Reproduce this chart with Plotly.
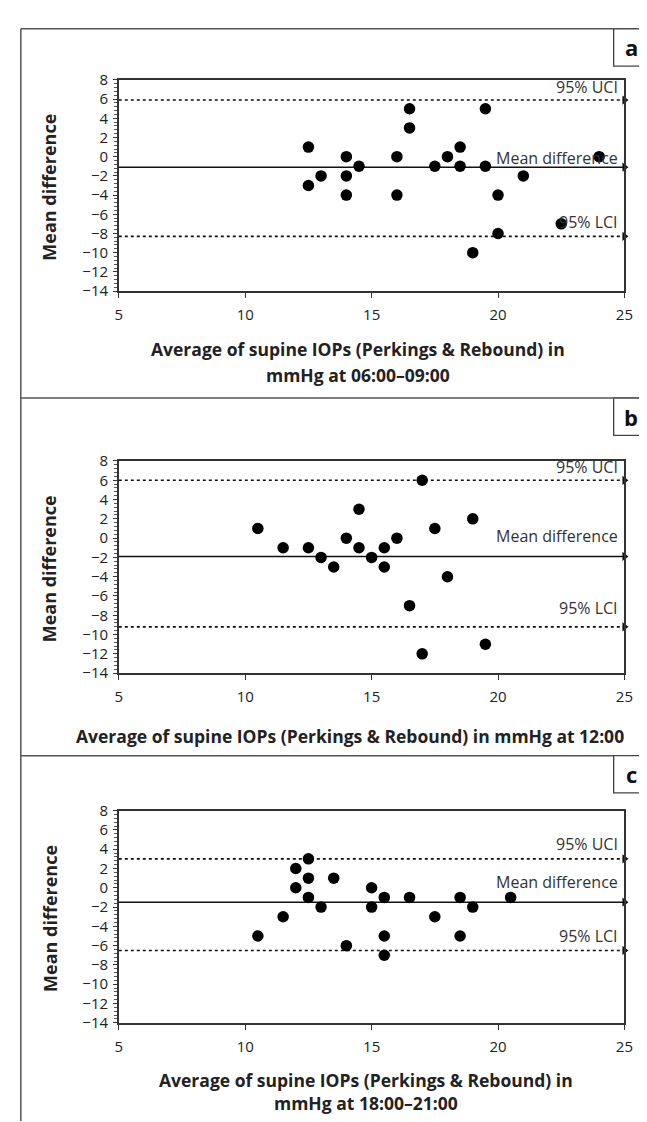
import plotly.graph_objects as go

# ---- data ----
panel_letters = ["a", "b", "c"]

a_avg = [12.5, 12.5, 13, 14, 14, 14, 14.5, 16, 16, 16.5, 16.5, 17.5, 18, 18.5, 18.5, 19, 19.5, 19.5, 20, 20, 21, 22.5, 24]
a_diff = [1, -3, -2, 0, -2, -4, -1, 0, -4, 5, 3, -1, 0, 1, -1, -10, 5, -1, -4, -8, -2, -7, 0]
a_stats = {"mean": -1.1, "uci": 5.9, "lci": -8.3}

b_avg = [10.5, 11.5, 12.5, 13, 13.5, 14, 14.5, 14.5, 15, 15.5, 15.5, 16, 16.5, 17, 17, 17.5, 18, 19, 19.5]
b_diff = [1, -1, -1, -2, -3, 0, 3, -1, -2, -1, -3, 0, -7, 6, -12, 1, -4, 2, -11]
b_stats = {"mean": -1.9, "uci": 6.0, "lci": -9.2}

c_avg = [10.5, 11.5, 12, 12, 12.5, 12.5, 12.5, 13, 13.5, 14, 15, 15, 15.5, 15.5, 15.5, 16.5, 17.5, 18.5, 18.5, 19, 20.5]
c_diff = [-5, -3, 2, 0, 3, 1, -1, -2, 1, -6, 0, -2, -1, -5, -7, -1, -3, -1, -5, -2, -1]
c_stats = {"mean": -1.5, "uci": 3.0, "lci": -6.5}

x_titles = [
    ["Average of supine IOPs (Perkings & Rebound) in", "mmHg at 06:00–09:00"],
    ["Average of supine IOPs (Perkings & Rebound) in mmHg at 12:00"],
    ["Average of supine IOPs (Perkings & Rebound) in", "mmHg at 18:00–21:00"],
]
y_title = "Mean difference"
line_labels = {"uci": "95% UCI", "mean": "Mean difference", "lci": "95% LCI"}

x_range = [5, 25]
y_range = [-14, 8]

# ---- layout geometry (pixels) ----
W, H = 647, 1122
def py(p):
    return 1 - p / H
def px(p):
    return p / W

plot_left, plot_right = 109, 625
panel_geo = [
    dict(top=62, bottom=277, ptop=10, title_ys=[336, 362], title_x=353, shifts=(0, -4, 1)),
    dict(top=450, bottom=666, ptop=386, title_ys=[730], title_x=345, shifts=(0, 7, 6)),
    dict(top=806, bottom=1022, ptop=750, title_ys=[1080, 1104], title_x=361, shifts=(2, 7, 1)),
]

FONT = "Open Sans"
datasets = [(a_avg, a_diff, a_stats), (b_avg, b_diff, b_stats), (c_avg, c_diff, c_stats)]

fig = go.Figure()
annotations = []
shapes = []

for i, ((xs, ys, st), geo) in enumerate(zip(datasets, panel_geo)):
    n = "" if i == 0 else str(i + 1)
    xa, ya = "x" + n, "y" + n
    # limit lines
    for key, dash in (("uci", "dot"), ("mean", "solid"), ("lci", "dot")):
        fig.add_trace(go.Scatter(
            x=x_range, y=[st[key], st[key]], xaxis=xa, yaxis=ya, mode="lines",
            line=dict(color="#111", width=1.6, dash=dash), hoverinfo="skip", showlegend=False,
            cliponaxis=False))
        fig.add_trace(go.Scatter(
            x=[x_range[1]], y=[st[key]], xaxis=xa, yaxis=ya, mode="markers",
            marker=dict(symbol="triangle-right", size=8, color="#111"),
            hoverinfo="skip", showlegend=False, cliponaxis=False))
    # points
    fig.add_trace(go.Scatter(
        x=xs, y=ys, xaxis=xa, yaxis=ya, mode="markers",
        marker=dict(size=11.5, color="black"), showlegend=False, cliponaxis=False))

    for key, sh in zip(("uci", "mean", "lci"), geo["shifts"]):
        annotations.append(dict(
            x=x_range[1], y=st[key], xref=xa, yref=ya, text=line_labels[key],
            showarrow=False, xanchor="right", yanchor="bottom", xshift=-4, yshift=sh,
            font=dict(family=FONT, size=16, color="#333")))

    dom = [py(geo["bottom"]), py(geo["top"])]
    axis_common = dict(showline=True, linecolor="#333", linewidth=1.5, mirror=True,
                       showgrid=False, zeroline=False,
                       tickfont=dict(family=FONT, size=15, color="#222"))
    fig.layout["xaxis" + n] = dict(
        domain=[px(plot_left), px(plot_right)], range=x_range, anchor=ya,
        tickmode="linear", tick0=5, dtick=5, ticks="outside", ticklen=5,
        tickcolor="#333", ticklabelstandoff=4, **axis_common)
    fig.layout["yaxis" + n] = dict(
        domain=dom, range=y_range, anchor=xa,
        tickmode="linear", tick0=-14, dtick=2, ticks="outside", ticklen=4,
        tickcolor="#333", ticklabelstandoff=2,
        minor=dict(dtick=0.4, ticks="outside", ticklen=3, tickcolor="#555"),
        **axis_common)

    # axis titles
    for line, ty in zip(x_titles[i], geo["title_ys"]):
        annotations.append(dict(
            x=px(geo["title_x"]), y=py(ty), xref="paper", yref="paper",
            text="<b>" + line + "</b>", showarrow=False, xanchor="center", yanchor="middle",
            font=dict(family=FONT, size=17.5, color="#222")))
    annotations.append(dict(
        x=px(38), y=py((geo["top"] + geo["bottom"]) / 2 + 2), xref="paper", yref="paper",
        text="<b>" + y_title + "</b>", showarrow=False, textangle=-90,
        xanchor="center", yanchor="middle",
        font=dict(family=FONT, size=18, color="#222")))

    # panel separator and letter box
    shapes.append(dict(type="line", xref="paper", yref="paper",
                       x0=px(9), x1=1, y0=py(geo["ptop"]), y1=py(geo["ptop"]),
                       line=dict(color="#555", width=1.5)))
    shapes.append(dict(type="rect", xref="paper", yref="paper",
                       x0=px(614), x1=px(660), y0=py(geo["ptop"] + 38), y1=py(geo["ptop"]),
                       line=dict(color="#444", width=1.3), fillcolor="white"))
    annotations.append(dict(
        x=px(632), y=py(geo["ptop"] + 19), xref="paper", yref="paper",
        text="<b>" + panel_letters[i] + "</b>", showarrow=False,
        xanchor="center", yanchor="middle",
        font=dict(family=FONT, size=22, color="#111")))

# outer left border
shapes.append(dict(type="line", xref="paper", yref="paper",
                   x0=px(9), x1=px(9), y0=0, y1=py(10),
                   line=dict(color="#555", width=1.5)))

fig.update_layout(
    width=W, height=H, margin=dict(l=0, r=0, t=0, b=0),
    paper_bgcolor="white", plot_bgcolor="white",
    annotations=annotations, shapes=shapes,
    font=dict(family=FONT),
)

fig.write_html("out.html")
